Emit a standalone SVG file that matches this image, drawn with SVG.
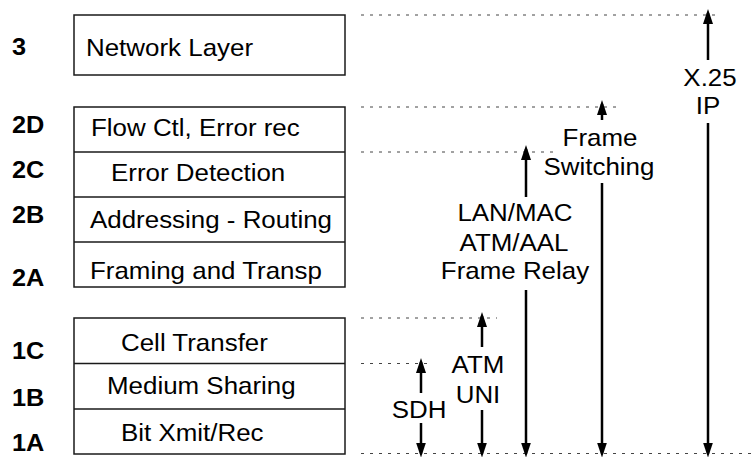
<svg xmlns="http://www.w3.org/2000/svg" width="751" height="457" viewBox="0 0 751 457">
  <style>
    .box { fill: #ffffff; stroke: #1a1a1a; stroke-width: 1.5; }
    .sep { stroke: #1a1a1a; stroke-width: 1.5; }
    .txt { font-family: "Liberation Sans", Arial, sans-serif; font-size: 24px; fill: #000; }
    .lvl { font-family: "Liberation Sans", Arial, sans-serif; font-size: 23px; font-weight: bold; fill: #000; }
    .rl { font-family: "Liberation Sans", Arial, sans-serif; font-size: 24px; fill: #000; text-anchor: middle; }
    .guide { stroke: #444; stroke-width: 1; stroke-dasharray: 3 6; fill: none; }
    .arr { stroke: #000; stroke-width: 2.5; fill: none; marker-end: url(#head); }
  </style>
  <defs>
    <marker id="head" markerUnits="userSpaceOnUse" markerWidth="15" markerHeight="10" refX="11" refY="5" orient="auto">
      <path d="M0,0 L15,5 L0,10 z" fill="#000"/>
    </marker>
  </defs>
  <rect width="751" height="457" fill="#ffffff"/>

  <g id="guides">
    <line class="guide" x1="361" y1="15" x2="720" y2="15"/>
    <line class="guide" x1="361" y1="107" x2="618" y2="107"/>
    <line class="guide" x1="361" y1="152" x2="555" y2="152"/>
    <line class="guide" x1="361" y1="318" x2="497" y2="318"/>
    <line class="guide" x1="361" y1="363.5" x2="430" y2="363.5"/>
    <line class="guide" x1="361" y1="453.5" x2="751" y2="453.5"/>
  </g>

  <g id="layer-3">
    <rect class="box" x="74" y="15" width="271" height="60"/>
    <text class="lvl" transform="translate(12,55) scale(1.1,1)">3</text>
    <text class="txt" transform="translate(86,56) scale(1.08,1)">Network Layer</text>
  </g>

  <g id="layer-2">
    <rect class="box" x="74" y="107" width="271" height="180"/>
    <line class="sep" x1="74" y1="152" x2="345" y2="152"/>
    <line class="sep" x1="74" y1="197" x2="345" y2="197"/>
    <line class="sep" x1="74" y1="242" x2="345" y2="242"/>
  </g>
  <g id="layer-2D">
    <text class="lvl" transform="translate(12,133) scale(1.1,1)">2D</text>
    <text class="txt" transform="translate(91,136) scale(1.08,1)">Flow Ctl, Error rec</text>
  </g>
  <g id="layer-2C">
    <text class="lvl" transform="translate(12,178) scale(1.1,1)">2C</text>
    <text class="txt" transform="translate(111,181) scale(1.08,1)">Error Detection</text>
  </g>
  <g id="layer-2B">
    <text class="lvl" transform="translate(12,223) scale(1.1,1)">2B</text>
    <text class="txt" transform="translate(90,228) scale(1.08,1)">Addressing - Routing</text>
  </g>
  <g id="layer-2A">
    <text class="lvl" transform="translate(12,286) scale(1.1,1)">2A</text>
    <text class="txt" transform="translate(90,279) scale(1.08,1)">Framing and Transp</text>
  </g>

  <g id="layer-1">
    <rect class="box" x="74" y="318" width="271" height="136"/>
    <line class="sep" x1="74" y1="363.5" x2="345" y2="363.5"/>
    <line class="sep" x1="74" y1="409" x2="345" y2="409"/>
  </g>
  <g id="layer-1C">
    <text class="lvl" transform="translate(12,359) scale(1.1,1)">1C</text>
    <text class="txt" transform="translate(121,351) scale(1.08,1)">Cell Transfer</text>
  </g>
  <g id="layer-1B">
    <text class="lvl" transform="translate(12,406) scale(1.1,1)">1B</text>
    <text class="txt" transform="translate(107,394) scale(1.08,1)">Medium Sharing</text>
  </g>
  <g id="layer-1A">
    <text class="lvl" transform="translate(12,451) scale(1.1,1)">1A</text>
    <text class="txt" transform="translate(121,441) scale(1.08,1)">Bit Xmit/Rec</text>
  </g>

  <g id="connectors">
    <line class="arr" x1="708" y1="60" x2="708" y2="13"/>
    <line class="arr" x1="708" y1="123" x2="708" y2="453.5"/>
    <line class="arr" x1="602" y1="120" x2="602" y2="104"/>
    <line class="arr" x1="602" y1="183" x2="602" y2="453.5"/>
    <line class="arr" x1="526" y1="197" x2="526" y2="149"/>
    <line class="arr" x1="526" y1="290" x2="526" y2="453.5"/>
    <line class="arr" x1="482" y1="347" x2="482" y2="316"/>
    <line class="arr" x1="482" y1="410" x2="482" y2="453.5"/>
    <line class="arr" x1="421" y1="393" x2="421" y2="362"/>
    <line class="arr" x1="421" y1="423" x2="421" y2="453.5"/>
  </g>

  <g id="label-x25-ip">
    <text class="rl" transform="translate(710,86) scale(1.08,1)">X.25</text>
    <text class="rl" transform="translate(708,114) scale(1.08,1)">IP</text>
  </g>
  <g id="label-frame-switching">
    <text class="rl" transform="translate(600,146) scale(1.08,1)">Frame</text>
    <text class="rl" transform="translate(599,175) scale(1.08,1)">Switching</text>
  </g>
  <g id="label-lan-atm-fr">
    <text class="rl" transform="translate(515,221) scale(1.08,1)">LAN/MAC</text>
    <text class="rl" transform="translate(514,251) scale(1.08,1)">ATM/AAL</text>
    <text class="rl" transform="translate(515,279) scale(1.08,1)">Frame Relay</text>
  </g>
  <g id="label-atm-uni">
    <text class="rl" transform="translate(478,373) scale(1.08,1)">ATM</text>
    <text class="rl" transform="translate(478,403) scale(1.08,1)">UNI</text>
  </g>
  <g id="label-sdh">
    <text class="rl" transform="translate(419,418) scale(1.08,1)">SDH</text>
  </g>
</svg>
